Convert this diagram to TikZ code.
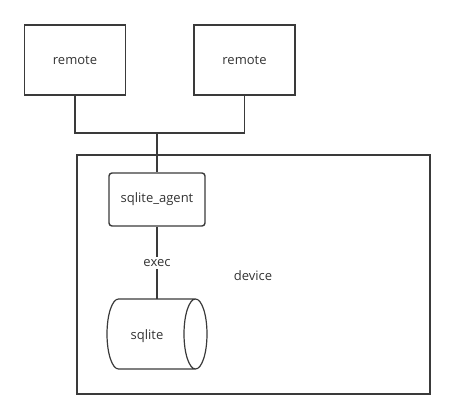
\documentclass[tikz,border=0pt]{standalone}
\usepackage{fontspec}
\setmainfont{Open Sans}
\definecolor{ln}{HTML}{3A3A3A}
\definecolor{tx}{HTML}{333333}
\tikzset{
  box/.style={draw=ln, line width=1.4pt, rectangle, inner sep=0pt, text=tx, font=\fontsize{13}{15}\selectfont},
  conn/.style={draw=ln, line width=1.4pt},
  lbl/.style={text=tx, font=\fontsize{13}{15}\selectfont, inner sep=1pt}
}
\begin{document}
\begin{tikzpicture}[x=1pt,y=-1pt]
\useasboundingbox (0,0) rectangle (455,419);
\node[box, minimum width=101pt, minimum height=70pt] (r1) at (75,60) {remote};
\node[box, minimum width=101pt, minimum height=70pt] (r2) at (244.5,60) {remote};
\node[box, minimum width=353pt, minimum height=239pt] (dev) at (253.5,274.5) {};
\node[lbl] (devl) at (253,276) {device};
\node[box, rounded corners=3pt, minimum width=96pt, minimum height=53pt] (ag) at (157,199.5) {sqlite\_agent};
\node[inner sep=0pt, minimum width=100pt, minimum height=70pt] (db) at (157,334) {};
\draw[conn, line width=1.2pt] (118.5,299) -- (195.5,299)
   (118.5,369) -- (195.5,369)
   (118.5,299) .. controls (112.15,299) and (107,314.67) .. (107,334)
   .. controls (107,353.33) and (112.15,369) .. (118.5,369)
   (195.5,334) ellipse [x radius=11.5, y radius=35];
\node[lbl] (dbl) at (147,336) {sqlite};
\node[lbl, fill=white, inner sep=2pt] (ex) at (157,263) {exec};
\coordinate (j) at (157,133);
\draw[conn] (r1.south) |- (j) -| (r2.south);
\draw[conn] (j) -- (ag.north);
\draw[conn] (ag.south) -- (ex.north);
\draw[conn] (ex.south) -- (db.north);
\end{tikzpicture}
\end{document}
